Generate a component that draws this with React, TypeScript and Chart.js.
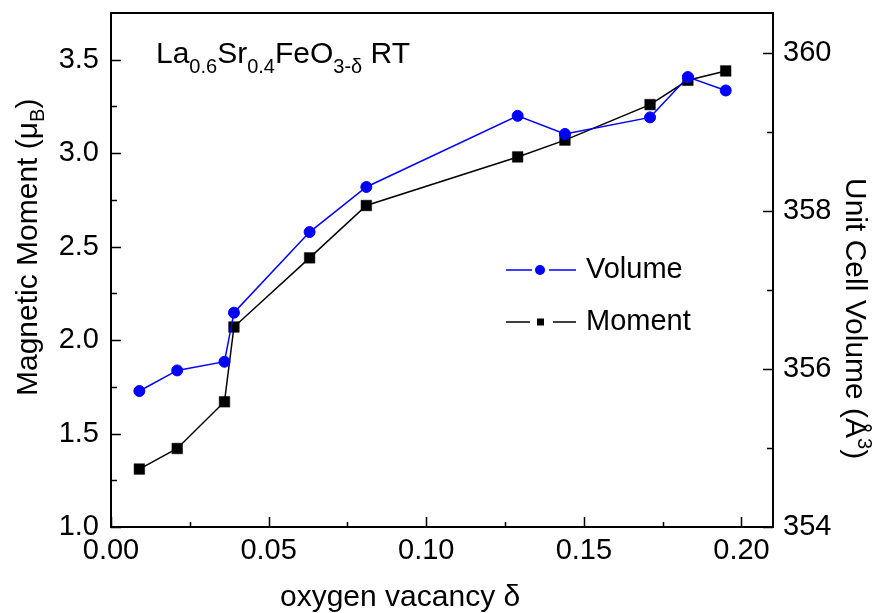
import { useEffect, useRef } from 'react';
import { Chart, registerables } from 'chart.js';
Chart.register(...registerables);

const delta = [0.009, 0.021, 0.036, 0.039, 0.063, 0.081, 0.129, 0.144, 0.171, 0.183, 0.195];
const moment = [1.31, 1.42, 1.67, 2.07, 2.44, 2.72, 2.98, 3.07, 3.26, 3.39, 3.44];
const volume = [355.72, 355.98, 356.09, 356.71, 357.73, 358.3, 359.2, 358.97, 359.18, 359.69, 359.52];

const xMajorTicks = [0, 0.05, 0.1, 0.15, 0.2];
const xMinorTicks = [0.025, 0.075, 0.125, 0.175];
const momentTicks = [1.0, 1.5, 2.0, 2.5, 3.0, 3.5];
const momentMinor = [1.25, 1.75, 2.25, 2.75, 3.25];
const volumeTicks = [354, 356, 358, 360];
const volumeMinor = [355, 357, 359];

const FONT = '"Liberation Sans", Arial, Helvetica, sans-serif';

type Part = { text: string; size: number; dy: number };

function drawRich(ctx: CanvasRenderingContext2D, parts: Part[], x: number, y: number) {
  let cx = x;
  for (const p of parts) {
    ctx.font = `${p.size}px ${FONT}`;
    ctx.fillText(p.text, cx, y + p.dy);
    cx += ctx.measureText(p.text).width;
  }
}

const decorPlugin = {
  id: 'decor',
  beforeDatasetsDraw(chart: any) {
    const { ctx, chartArea: a, scales } = chart;
    ctx.save();
    ctx.strokeStyle = '#000';
    ctx.lineWidth = 2;
    ctx.strokeRect(a.left, a.top, a.right - a.left, a.bottom - a.top);
    ctx.lineWidth = 1.5;
    ctx.beginPath();
    const X = scales.x;
    const Y = scales.y;
    const Y1 = scales.y1;
    for (const v of xMajorTicks) {
      const p = Math.round(X.getPixelForValue(v)) + 0.5;
      ctx.moveTo(p, a.bottom); ctx.lineTo(p, a.bottom - 10);
    }
    for (const v of xMinorTicks) {
      const p = Math.round(X.getPixelForValue(v)) + 0.5;
      ctx.moveTo(p, a.bottom); ctx.lineTo(p, a.bottom - 5);
    }
    for (const v of momentTicks) {
      const p = Math.round(Y.getPixelForValue(v)) + 0.5;
      ctx.moveTo(a.left, p); ctx.lineTo(a.left + 10, p);
    }
    for (const v of momentMinor) {
      const p = Math.round(Y.getPixelForValue(v)) + 0.5;
      ctx.moveTo(a.left, p); ctx.lineTo(a.left + 6, p);
    }
    for (const v of volumeTicks) {
      const p = Math.round(Y1.getPixelForValue(v)) + 0.5;
      ctx.moveTo(a.right, p); ctx.lineTo(a.right - 10, p);
    }
    for (const v of volumeMinor) {
      const p = Math.round(Y1.getPixelForValue(v)) + 0.5;
      ctx.moveTo(a.right, p); ctx.lineTo(a.right - 6, p);
    }
    ctx.stroke();
    ctx.restore();
  },
  afterDraw(chart: any) {
    const { ctx } = chart;
    ctx.save();
    ctx.fillStyle = '#000';
    ctx.textAlign = 'left';
    ctx.textBaseline = 'alphabetic';

    // Inner title
    drawRich(ctx, [
      { text: 'La', size: 30, dy: 0 },
      { text: '0.6', size: 20, dy: 10 },
      { text: 'Sr', size: 30, dy: 0 },
      { text: '0.4', size: 20, dy: 10 },
      { text: 'FeO', size: 30, dy: 0 },
      { text: '3-\u03B4', size: 20, dy: 10 },
      { text: ' RT', size: 30, dy: 0 },
    ], 156, 63);

    // X axis title
    drawRich(ctx, [{ text: 'oxygen vacancy \u03B4', size: 30, dy: 0 }], 280, 606);

    // Left axis title
    ctx.save();
    ctx.translate(37, 396);
    ctx.rotate(-Math.PI / 2);
    drawRich(ctx, [
      { text: 'Magnetic Moment (\u03BC', size: 30, dy: 0 },
      { text: 'B', size: 20, dy: 7 },
      { text: ')', size: 30, dy: 0 },
    ], 0, 0);
    ctx.restore();

    // Right axis title
    ctx.save();
    ctx.translate(846, 178);
    ctx.rotate(Math.PI / 2);
    drawRich(ctx, [
      { text: 'Unit Cell Volume (\u00C5', size: 30, dy: 0 },
      { text: '3', size: 20, dy: -12 },
      { text: ')', size: 30, dy: 0 },
    ], 0, 0);
    ctx.restore();

    // Legend
    ctx.lineWidth = 1.5;
    ctx.strokeStyle = '#0000ff';
    ctx.fillStyle = '#0000ff';
    ctx.beginPath();
    ctx.moveTo(506, 270); ctx.lineTo(532, 270);
    ctx.moveTo(549, 270); ctx.lineTo(576, 270);
    ctx.stroke();
    ctx.beginPath();
    ctx.arc(540, 270, 5, 0, Math.PI * 2);
    ctx.fill();
    ctx.strokeStyle = '#000';
    ctx.fillStyle = '#000';
    ctx.beginPath();
    ctx.moveTo(506, 322); ctx.lineTo(530, 322);
    ctx.moveTo(553, 322); ctx.lineTo(576, 322);
    ctx.stroke();
    ctx.fillRect(537, 318.5, 7, 7);
    ctx.textBaseline = 'middle';
    ctx.font = `29px ${FONT}`;
    ctx.fillText('Volume', 586, 270);
    ctx.fillText('Moment', 586, 322);
    ctx.restore();
  },
};

const zeroPad = (s: any) => {
  s.paddingTop = 0;
  s.paddingBottom = 0;
  s.paddingLeft = 0;
  s.paddingRight = 0;
};

export default function App() {
  const ref = useRef<HTMLCanvasElement | null>(null);
  useEffect(() => {
    if (!ref.current) return;
    const tickFont = { family: FONT, size: 29 };
    const chart = new Chart(ref.current, {
      type: 'line',
      data: {
        datasets: [
          {
            label: 'Volume',
            data: delta.map((x, i) => ({ x, y: volume[i] })),
            yAxisID: 'y1',
            borderColor: '#0000ff',
            backgroundColor: '#0000ff',
            borderWidth: 1.5,
            pointStyle: 'circle',
            pointRadius: 5.5,
            pointBorderWidth: 1,
            pointBackgroundColor: '#0000ff',
            pointBorderColor: '#0000ff',
            tension: 0,
            order: 0,
          },
          {
            label: 'Moment',
            data: delta.map((x, i) => ({ x, y: moment[i] })),
            yAxisID: 'y',
            borderColor: '#000000',
            backgroundColor: '#000000',
            borderWidth: 1.5,
            pointStyle: 'rect',
            pointRadius: 7.5,
            pointBorderWidth: 0.5,
            pointBackgroundColor: '#000000',
            pointBorderColor: '#000000',
            tension: 0,
            order: 1,
          },
        ],
      },
      options: {
        animation: false,
        responsive: false,
        devicePixelRatio: 1,
        layout: { padding: { top: 13, left: 0, right: 0, bottom: 0 } },
        plugins: { legend: { display: false }, tooltip: { enabled: false } },
        scales: {
          x: {
            type: 'linear',
            min: 0,
            max: 0.21,
            grid: { display: false, drawTicks: false },
            border: { display: false },
            afterBuildTicks: (s: any) => { s.ticks = xMajorTicks.map((v) => ({ value: v })); },
            afterFit: (s: any) => { s.height = 86; zeroPad(s); },
            ticks: {
              font: tickFont,
              color: '#000',
              padding: 7,
              maxRotation: 0,
              autoSkip: false,
              callback: (v: any) => Number(v).toFixed(2),
            },
          },
          y: {
            type: 'linear',
            position: 'left',
            min: 1,
            max: 3.75,
            grid: { display: false, drawTicks: false },
            border: { display: false },
            afterBuildTicks: (s: any) => { s.ticks = momentTicks.map((v) => ({ value: v })); },
            afterFit: (s: any) => { s.width = 111; zeroPad(s); },
            ticks: {
              font: tickFont,
              color: '#000',
              padding: 12,
              autoSkip: false,
              callback: (v: any) => Number(v).toFixed(1),
            },
          },
          y1: {
            type: 'linear',
            position: 'right',
            min: 354,
            max: 360.5,
            grid: { display: false, drawTicks: false },
            border: { display: false },
            afterBuildTicks: (s: any) => { s.ticks = volumeTicks.map((v) => ({ value: v })); },
            afterFit: (s: any) => { s.width = 107; zeroPad(s); },
            ticks: {
              font: tickFont,
              color: '#000',
              padding: 10,
              autoSkip: false,
              callback: (v: any) => String(v),
            },
          },
        },
      },
      plugins: [decorPlugin],
    } as any);
    return () => chart.destroy();
  }, []);
  return (
    <div style={{ position: 'absolute', left: 0, top: 0, width: 880, height: 613, background: '#fff' }}>
      <canvas ref={ref} width={880} height={613} style={{ width: 880, height: 613, display: 'block' }} />
    </div>
  );
}
